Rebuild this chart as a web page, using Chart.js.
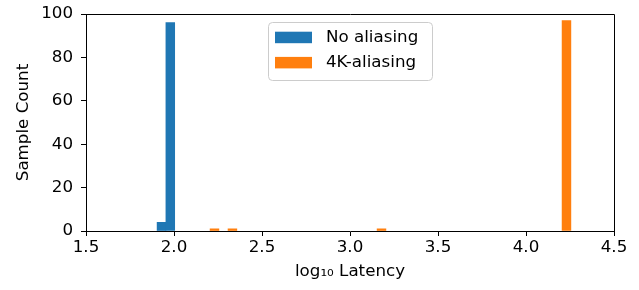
<!DOCTYPE html>
<html>
<head>
<meta charset="utf-8">
<script src="https://cdn.jsdelivr.net/npm/chart.js@4.4.1/dist/chart.umd.min.js"></script>
<style>
  html, body { margin: 0; padding: 0; background: #fff; }
  #wrap { width: 639px; height: 290px; }
</style>
</head>
<body>
<div id="wrap"><canvas id="histChart"></canvas></div>
<script>
// Histogram data (bin centres in log10 latency)
const seriesNames = ['No aliasing', '4K-aliasing'];
const seriesColors = ['#1f77b4', '#ff7f0e'];
const noAliasBins = [1.929, 1.979];
const noAliasCounts = [4, 96];
const aliasBins = [2.230, 2.332, 3.179, 4.230];
const aliasCounts = [1, 1, 1, 97];
const xTicks = [1.5, 2.0, 2.5, 3.0, 3.5, 4.0, 4.5];
const xTickLabels = ['1.5', '2.0', '2.5', '3.0', '3.5', '4.0', '4.5'];
const yTicks = [0, 20, 40, 60, 80, 100];
const yTickLabels = ['0', '20', '40', '60', '80', '100'];

const FONT = 'DejaVu Sans';
const FONT_SIZE = 16.7;

Chart.defaults.font.family = FONT;
Chart.defaults.font.size = FONT_SIZE;
Chart.defaults.color = '#000';

function toPoints(xs, ys) {
    return xs.map((x, i) => ({ x: x, y: ys[i] }));
}

// Draws the top and right spines (matplotlib style box)
const framePlugin = {
    id: 'frame',
    afterDraw(chart) {
        const { ctx, chartArea: a } = chart;
        ctx.save();
        ctx.strokeStyle = '#000';
        ctx.lineWidth = 1;
        ctx.beginPath();
        ctx.moveTo(Math.round(a.left) + 0.5, Math.round(a.top) + 0.5);
        ctx.lineTo(Math.round(a.right) + 0.5, Math.round(a.top) + 0.5);
        ctx.lineTo(Math.round(a.right) + 0.5, Math.round(a.bottom) + 0.5);
        ctx.stroke();
        ctx.restore();
    }
};

// Legend drawn inside the plot, upper centre, like matplotlib's
const boxLegendPlugin = {
    id: 'boxLegend',
    afterDraw(chart) {
        const { ctx, chartArea: a } = chart;
        const w = 164, h = 58;
        const left = (a.left + a.right) / 2 - w / 2;
        const top = a.top + 8;
        ctx.save();
        ctx.beginPath();
        ctx.roundRect(Math.round(left) + 0.5, Math.round(top) + 0.5, w, h, 4);
        ctx.fillStyle = 'rgba(255,255,255,0.8)';
        ctx.fill();
        ctx.strokeStyle = '#cccccc';
        ctx.lineWidth = 1;
        ctx.stroke();

        ctx.font = FONT_SIZE + 'px "' + FONT + '"';
        ctx.textBaseline = 'middle';
        ctx.textAlign = 'left';
        chart.data.datasets.forEach((ds, i) => {
            const cy = top + 15.5 + i * 25.2;
            ctx.fillStyle = ds.backgroundColor;
            ctx.fillRect(left + 7, cy - 5.8, 37, 11.5);
            ctx.fillStyle = '#000';
            ctx.fillText(ds.label, left + 58, cy);
        });
        ctx.restore();
    }
};

new Chart(document.getElementById('histChart'), {
    type: 'bar',
    data: {
        datasets: [
            {
                label: seriesNames[0],
                data: toPoints(noAliasBins, noAliasCounts),
                backgroundColor: seriesColors[0]
            },
            {
                label: seriesNames[1],
                data: toPoints(aliasBins, aliasCounts),
                backgroundColor: seriesColors[1]
            }
        ]
    },
    options: {
        responsive: true,
        maintainAspectRatio: false,
        animation: false,
        grouped: false,
        barPercentage: 1,
        categoryPercentage: 1,
        borderWidth: 0,
        layout: {
            padding: { left: 0, top: 14, right: 25, bottom: 0 }
        },
        plugins: {
            legend: { display: false },
            tooltip: { enabled: false }
        },
        scales: {
            x: {
                type: 'linear',
                offset: false,
                min: 1.5,
                max: 4.5,
                afterBuildTicks: function(axis) {
                    axis.ticks = xTicks.map(v => ({ value: v }));
                },
                afterFit: function(axis) {
                    axis.height = 59;
                    axis.paddingLeft = 0;
                    axis.paddingRight = 0;
                },
                grid: {
                    offset: false,
                    drawOnChartArea: false,
                    drawTicks: true,
                    tickLength: 5,
                    color: '#000'
                },
                border: { display: true, color: '#000', width: 1 },
                ticks: {
                    padding: 2,
                    maxRotation: 0,
                    autoSkip: false,
                    callback: function(value, index) {
                        return xTickLabels[index];
                    }
                },
                title: {
                    display: true,
                    text: 'log\u2081\u2080 Latency',
                    padding: { top: 0, bottom: 8 }
                }
            },
            y: {
                min: 0,
                max: 100,
                afterBuildTicks: function(axis) {
                    axis.ticks = yTicks.map(v => ({ value: v }));
                },
                afterFit: function(axis) {
                    axis.width = 86;
                    axis.paddingTop = 0;
                    axis.paddingBottom = 0;
                },
                grid: {
                    drawOnChartArea: false,
                    drawTicks: true,
                    tickLength: 5,
                    color: '#000'
                },
                border: { display: true, color: '#000', width: 1 },
                ticks: {
                    padding: 8,
                    autoSkip: false,
                    callback: function(value, index) {
                        return yTickLabels[index];
                    }
                },
                title: {
                    display: true,
                    text: 'Sample Count',
                    padding: { top: 14, bottom: 0 }
                }
            }
        }
    },
    plugins: [framePlugin, boxLegendPlugin]
});
</script>
</body>
</html>
